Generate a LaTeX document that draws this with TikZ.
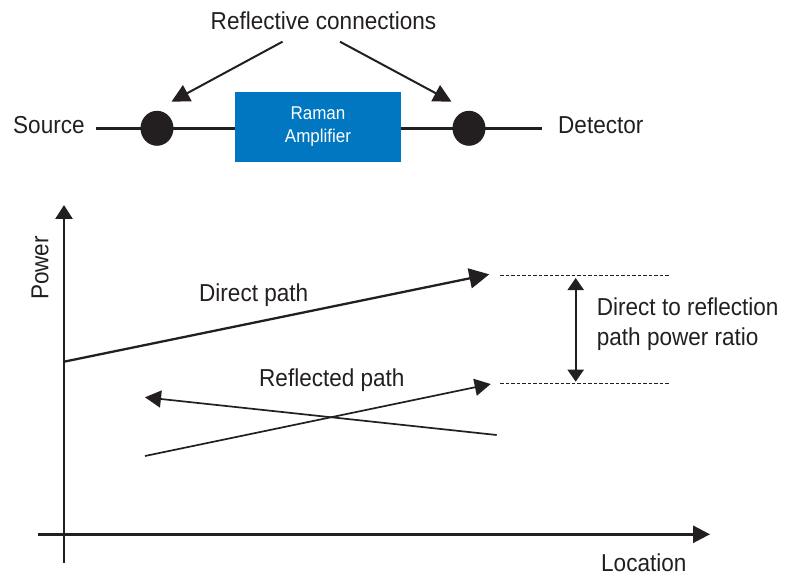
\documentclass[tikz,border=0pt]{standalone}
\usepackage{fontspec}
\setmainfont{Liberation Sans}[FakeStretch=0.92]
\usetikzlibrary{arrows.meta,shapes.geometric}
\definecolor{ink}{HTML}{231F20}
\definecolor{ampblue}{HTML}{0077C0}
\begin{document}
\begin{tikzpicture}[x=1pt,y=-1pt,
  lbl/.style={inner sep=0pt,text=ink,font=\fontsize{24.5}{30}\selectfont},
  ampbox/.style={fill=ampblue,draw=none,minimum width=165.7pt,minimum height=70pt,inner sep=0pt,text=white,align=center,font=\fontsize{18.5}{22.3}\selectfont},
  dot/.style={ellipse,fill=ink,draw=none,minimum width=33pt,minimum height=35pt,inner sep=0pt},
  wire/.style={draw=ink,line width=2.7pt},
  pointer/.style={draw=ink,line width=2pt,-{Triangle[length=18pt,width=18pt]}},
  axis/.style={draw=ink,line width=2.7pt},
  ratio/.style={draw=ink,line width=1pt,dash pattern=on 3.5pt off 2pt},
]
\useasboundingbox (0,0) rectangle (788,575);
% top schematic
\node[lbl,anchor=base] (refl) at (323.5,29.3) {Reflective connections};
\node[lbl,anchor=base west] (src) at (13,133.3) {Source};
\node[lbl,anchor=base west] (det) at (558,133.3) {Detector};
\node[ampbox] (amp) at (318,126.7) {Raman\\Amplifier};
\coordinate (s0) at (96,128.3);
\coordinate (d0) at (541.5,128.3);
\draw[wire] (s0) -- (amp.west |- s0);
\draw[wire] (amp.east |- d0) -- (d0);
\node[dot] (c1) at (157,128.3) {};
\node[dot] (c2) at (469,128.3) {};
\coordinate (a1) at (282.5,41.7);
\coordinate (a2) at (340,41.7);
\coordinate (t1) at (171.5,101.7);
\coordinate (t2) at (451.5,101.7);
\draw[pointer] (a1) -- (t1);
\draw[pointer] (a2) -- (t2);
% graph
\coordinate (ybot) at (64,562.7);
\coordinate (ytop) at (64,205);
\coordinate (xl) at (38,534.3);
\coordinate (xr) at (710,534.3);
\draw[axis,-{Triangle[length=14pt,width=17pt]}] (ybot) -- (ytop);
\draw[axis,-{Triangle[length=17pt,width=17pt]}] (xl) -- (xr);
\node[lbl,rotate=90] (power) at (40,268) {Power};
\node[lbl,anchor=base west] (loc) at (601,571) {Location};
% direct path
\coordinate (dp0) at (64,361.7);
\coordinate (dp1) at (489.3,274.3);
\draw[draw=ink,line width=2.3pt,-{Triangle[length=20pt,width=20pt]}] (dp0) -- (dp1);
\node[lbl,anchor=base west] (dpl) at (199,301.7) {Direct path};
% reflected paths
\coordinate (rf0) at (145,456);
\coordinate (rf1) at (490.7,384);
\draw[draw=ink,line width=1.7pt,-{Triangle[length=16pt,width=17pt]}] (rf0) -- (rf1);
\coordinate (rb0) at (496.7,435);
\coordinate (rb1) at (145,397.3);
\draw[draw=ink,line width=1.7pt,-{Triangle[length=16pt,width=17pt]}] (rb0) -- (rb1);
\node[lbl,anchor=base west] (rpl) at (259,386.7) {Reflected path};
% ratio
\coordinate (h0) at (500,275);
\coordinate (h1) at (669,275);
\coordinate (l0) at (500,383.7);
\coordinate (l1) at (669,383.7);
\draw[ratio] (h0) -- (h1);
\draw[ratio] (l0) -- (l1);
\coordinate (rt) at (575.7,278);
\coordinate (rbm) at (575.7,381.7);
\draw[draw=ink,line width=2.2pt,{Triangle[length=12pt,width=16pt]}-{Triangle[length=12pt,width=16pt]}] (rt) -- (rbm);
\node[lbl,anchor=base west] (rl1) at (596.7,315) {Direct to reflection};
\node[lbl,anchor=base west] (rl2) at (596.7,345) {path power ratio};
\end{tikzpicture}
\end{document}
